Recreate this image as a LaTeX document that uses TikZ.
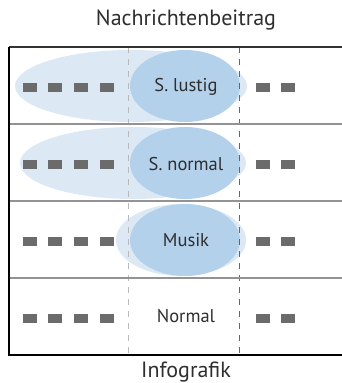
\documentclass[tikz,border=0pt]{standalone}
\usepackage{fontspec}
\setmainfont{PT Sans}
\definecolor{ellL}{HTML}{DCE8F4}
\definecolor{ellD}{HTML}{B3D1EA}
\definecolor{sq}{HTML}{6B6B6B}
\definecolor{txt}{HTML}{2E2E2E}
\tikzset{
  sqbox/.style={fill=sq,minimum width=14pt,minimum height=9pt,inner sep=0pt},
  lbl/.style={text=txt,font=\fontsize{22}{26}\selectfont,inner sep=0pt},
  cell/.style={text=txt,font=\fontsize{18.5}{22}\selectfont,inner sep=0pt},
  sep/.style={draw=gray!85,line width=1.4pt},
  vdash/.style={dash pattern=on 6pt off 6pt,line width=0.9pt}
}
\begin{document}
\begin{tikzpicture}[x=1pt,y=-1pt]
\useasboundingbox (0,0) rectangle (342,383);
\clip (0,0) rectangle (342,383);
% ellipses
\fill[ellL] (131,86) ellipse [x radius=116, y radius=36];
\fill[ellD] (185,86) ellipse [x radius=55, y radius=36];
\fill[ellL] (133,163) ellipse [x radius=113, y radius=36];
\fill[ellD] (185,163) ellipse [x radius=55, y radius=36];
\fill[ellL] (181,240) ellipse [x radius=65, y radius=36];
\fill[ellD] (185,240) ellipse [x radius=55, y radius=36];
% dashed columns
\coordinate (d1t) at (128,47); \coordinate (d1b) at (128,355);
\coordinate (d2t) at (239,47); \coordinate (d2b) at (239,355);
\draw[vdash,draw=gray!55] (d1t) -- (d1b);
\draw[vdash,draw=gray!120] (d2t) -- (d2b);
% frame
\coordinate (tl) at (9,47); \coordinate (tr) at (350,47);
\coordinate (bl) at (9,355); \coordinate (br) at (350,355);
\coordinate (s1l) at (9,124); \coordinate (s1r) at (350,124);
\coordinate (s2l) at (9,201); \coordinate (s2r) at (350,201);
\coordinate (s3l) at (9,278); \coordinate (s3r) at (350,278);
\draw[sep] (s1l) -- (s1r);
\draw[sep] (s2l) -- (s2r);
\draw[sep] (s3l) -- (s3r);
\draw[draw=black!80,line width=1.6pt] (tl) -- (tr);
\draw[black,line width=2.2pt] (br) -- (bl) -- (tl);
% squares
\foreach \r/\y in {1/87,2/164,3/241,4/318}{
  \foreach \i/\x in {a/30,b/55,c/81,d/107,e/263,f/288}{
    \node[sqbox] (q\r\i) at (\x,\y) {};
  }
}
% labels
\node[lbl] (title) at (186,20) {Nachrichtenbeitrag};
\node[lbl] (bottom) at (186,372) {Infografik};
\node[cell] (c1) at (186,87) {S. lustig};
\node[cell] (c2) at (186,164) {S. normal};
\node[cell] (c3) at (186,240) {Musik};
\node[cell] (c4) at (186,316) {Normal};
\end{tikzpicture}
\end{document}
